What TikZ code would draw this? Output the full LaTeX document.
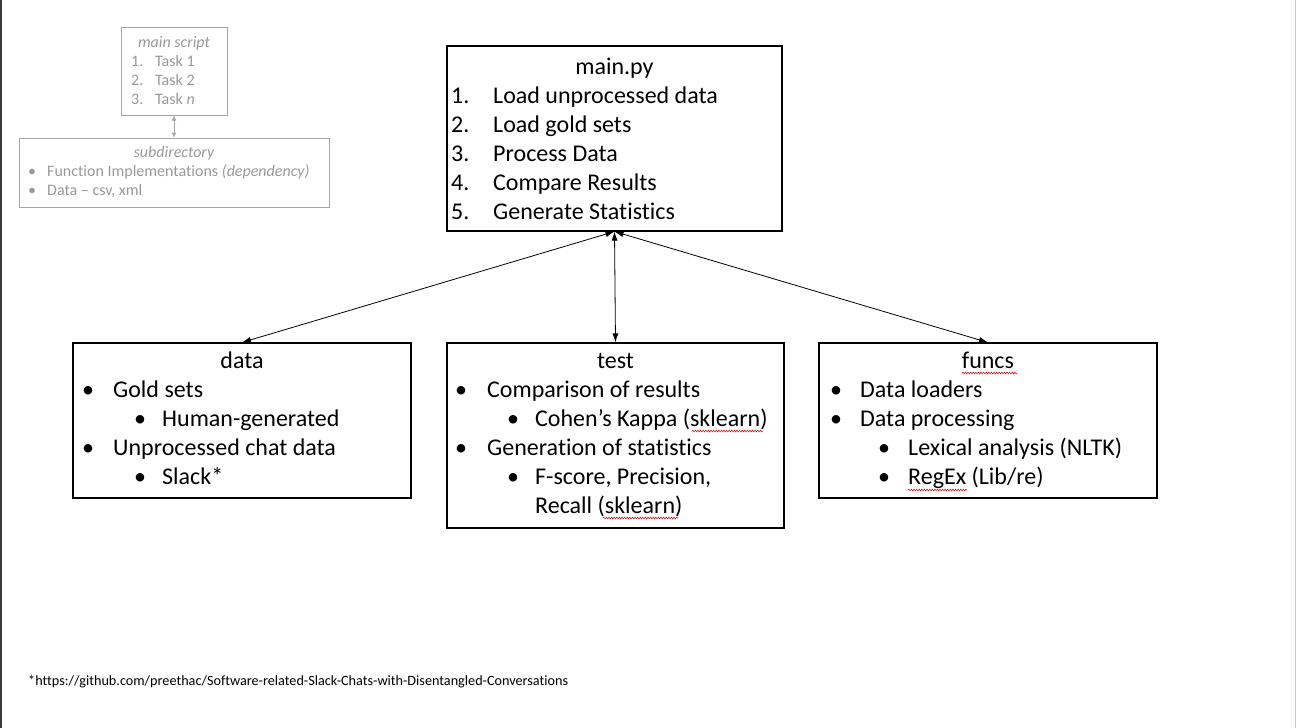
\documentclass[tikz,border=0pt]{standalone}
\usepackage{fontspec}
\setmainfont{Carlito}[Ligatures=NoCommon]
\usetikzlibrary{arrows.meta,decorations.pathmorphing}
\definecolor{lgray}{HTML}{A6A6A6}
\definecolor{tgray}{HTML}{999999}
\definecolor{edgeL}{HTML}{3A3A3A}
\definecolor{edgeR}{HTML}{C8C8C8}
\tikzset{
  box/.style={draw=black, line width=1.1pt, rectangle, inner sep=0pt},
  gbox/.style={draw=lgray, line width=1pt, rectangle, inner sep=0pt},
  big/.style={font=\fontsize{24}{29}\selectfont, inner sep=0pt, anchor=base west},
  bigtitle/.style={font=\fontsize{24}{29}\selectfont, inner sep=0pt, anchor=base},
  small/.style={font=\fontsize{16}{19}\selectfont, text=tgray, inner sep=0pt, anchor=base west},
  smalltitle/.style={font=\fontsize{16}{19}\selectfont\itshape, text=tgray, inner sep=0pt, anchor=base},
  link/.style={line width=0.8pt, {Latex[length=9pt,width=6pt]}-{Latex[length=9pt,width=6pt]}},
  glink/.style={draw=lgray, line width=1pt, {Latex[length=5pt,width=5pt]}-{Latex[length=5pt,width=5pt]}},
  squig/.style={draw=red!85!black, line width=0.5pt, decorate, decoration={snake, amplitude=0.9pt, segment length=2.6pt}},
}
\begin{document}
\begin{tikzpicture}[x=1pt,y=-1pt]
\useasboundingbox (0,0) rectangle (1296,728);
\fill[edgeL] (0,0) rectangle (2,728);
\fill[edgeR] (1294.5,0) rectangle (1296,728);

% boxes
\node[box, minimum width=335pt, minimum height=185pt] (mainpy) at (614.5,138.5) {};
\node[box, minimum width=338pt, minimum height=155pt] (data) at (242,420.5) {};
\node[box, minimum width=337pt, minimum height=185pt] (test) at (615.5,435.5) {};
\node[box, minimum width=338pt, minimum height=155pt] (funcs) at (988,420.5) {};
\node[gbox, minimum width=106pt, minimum height=88pt] (mscript) at (174,71) {};
\node[gbox, minimum width=310pt, minimum height=69pt] (subdir) at (174,172.5) {};

% connectors
\draw[link] (mainpy.south) -- (data.north);
\draw[link] (mainpy.south) -- (test.north);
\draw[link] (mainpy.south) -- (funcs.north);
\draw[glink] (mscript.south) -- (subdir.north);

% main.py text
\node[bigtitle] (mt) at (614.5,74) {main.py};
\node[big] (m1n) at (451,103) {1.}; \node[big] (m1) at (493,103) {Load unprocessed data};
\node[big] (m2n) at (451,132) {2.}; \node[big] (m2) at (493,132) {Load gold sets};
\node[big] (m3n) at (451,161) {3.}; \node[big] (m3) at (493,161) {Process Data};
\node[big] (m4n) at (451,190) {4.}; \node[big] (m4) at (493,190) {Compare Results};
\node[big] (m5n) at (451,219) {5.}; \node[big] (m5) at (493,219) {Generate Statistics};

% data text
\node[bigtitle] (dt) at (242,368) {data};
\node[big] (d1b) at (82,397) {\textbullet}; \node[big] (d1) at (113,397) {Gold sets};
\node[big] (d2b) at (134,426) {\textbullet}; \node[big] (d2) at (162,426) {Human-generated};
\node[big] (d3b) at (82,455) {\textbullet}; \node[big] (d3) at (113,455) {Unprocessed chat data};
\node[big] (d4b) at (134,484) {\textbullet}; \node[big] (d4) at (162,484) {Slack*};

% test text
\node[bigtitle] (tt) at (615.5,368) {test};
\node[big] (t1b) at (455,397) {\textbullet}; \node[big] (t1) at (487,397) {Comparison of results};
\node[big] (t2b) at (507,426) {\textbullet}; \node[big] (t2) at (535,426) {Cohen’s Kappa (sklearn)};
\node[big] (t3b) at (455,455) {\textbullet}; \node[big] (t3) at (487,455) {Generation of statistics};
\node[big] (t4b) at (507,484) {\textbullet}; \node[big] (t4) at (535,484) {F-score, Precision,};
\node[big] (t5) at (535,513) {Recall (sklearn)};

% funcs text
\node[bigtitle] (ft) at (988,368) {funcs};
\node[big] (f1b) at (830,397) {\textbullet}; \node[big] (f1) at (860,397) {Data loaders};
\node[big] (f2b) at (830,426) {\textbullet}; \node[big] (f2) at (860,426) {Data processing};
\node[big] (f3b) at (878,455) {\textbullet}; \node[big] (f3) at (908,455) {Lexical analysis (NLTK)};
\node[big] (f4b) at (878,484) {\textbullet}; \node[big] (f4) at (908,484) {RegEx (Lib/re)};

% spell-check squiggles
\draw[squig] (692,431) -- (763,431);
\draw[squig] (603,518) -- (678,518);
\draw[squig] (962,373) -- (1017,373);
\draw[squig] (908,490) -- (967,490);

% gray legend text
\node[smalltitle] (st) at (174,47) {main script};
\node[small] (s1n) at (131,66.5) {1.}; \node[small] (s1) at (155,66.5) {Task 1};
\node[small] (s2n) at (131,85.5) {2.}; \node[small] (s2) at (155,85.5) {Task 2};
\node[small] (s3n) at (131,104.5) {3.}; \node[small] (s3) at (155,104.5) {Task \textit{n}};
\node[smalltitle] (sdt) at (174,157.5) {subdirectory};
\node[small] (sd1b) at (28,176.5) {\textbullet}; \node[small] (sd1) at (47,176.5) {Function Implementations \textit{(dependency)}};
\node[small] (sd2b) at (28,195.5) {\textbullet}; \node[small] (sd2) at (47,195.5) {Data – csv, xml};

% footnote
\node[font=\fontsize{14.2}{16}\selectfont, inner sep=0pt, anchor=base west] (fn) at (28,685) {*https://github.com/preethac/Software-related-Slack-Chats-with-Disentangled-Conversations};
\end{tikzpicture}
\end{document}
